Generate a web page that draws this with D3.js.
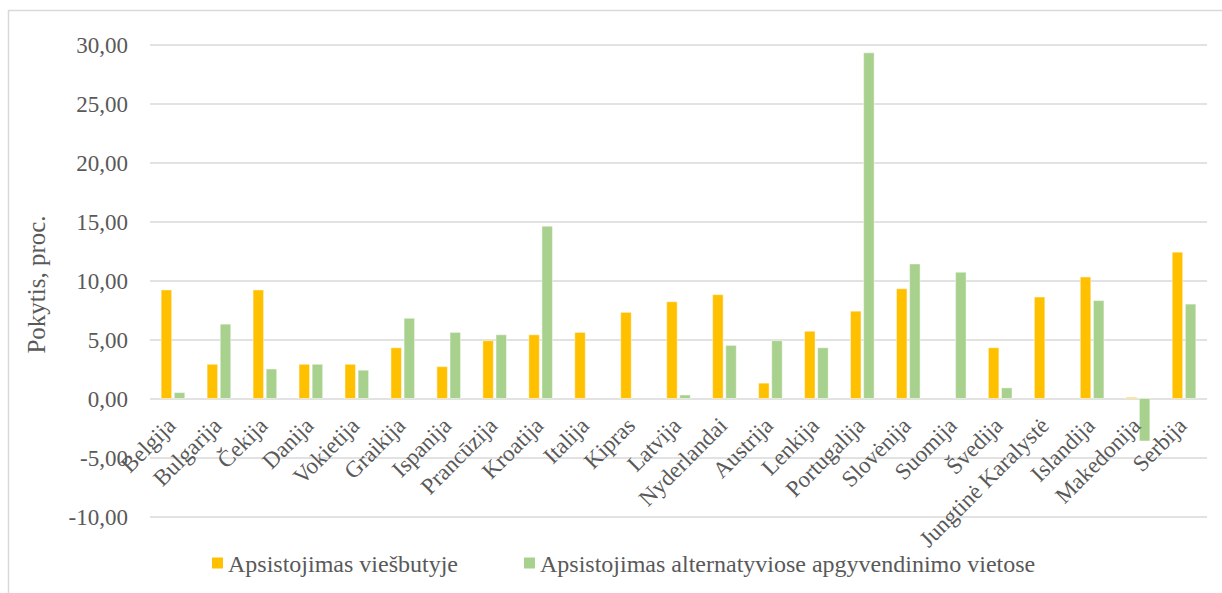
<!DOCTYPE html>
<html>
<head>
<meta charset="utf-8">
<script src="https://cdn.jsdelivr.net/npm/d3@7"></script>
<style>
  html, body { margin: 0; padding: 0; background: #fff; }
  svg { display: block; }
  svg text { font-family: 'Liberation Serif', 'Times New Roman', serif !important; }
</style>
</head>
<body>
<svg id="chart" width="1222" height="593"></svg>
<script>
// Countries on the category axis
const categories = ["Belgija", "Bulgarija", "Čekija", "Danija", "Vokietija", "Graikija", "Ispanija",
  "Prancūzija", "Kroatija", "Italija", "Kipras", "Latvija", "Nyderlandai", "Austrija", "Lenkija",
  "Portugalija", "Slovėnija", "Suomija", "Švedija", "Jungtinė Karalystė", "Islandija", "Makedonija", "Serbija"];

// Change, percent
const hotelValues = [9.2, 2.9, 9.2, 2.9, 2.9, 4.3, 2.7, 4.9, 5.4, 5.6, 7.3, 8.2, 8.8, 1.3, 5.7,
  7.4, 9.3, 0, 4.3, 8.6, 10.3, 0.1, 12.4];
const alternativeValues = [0.5, 6.3, 2.5, 2.9, 2.4, 6.8, 5.6, 5.4, 14.6, 0, 0, 0.3, 4.5, 4.9, 4.3,
  29.3, 11.4, 10.7, 0.9, 0, 8.3, -3.6, 8.0];

const seriesNames = ["Apsistojimas viešbutyje", "Apsistojimas alternatyviose apgyvendinimo vietose"];
const seriesColors = ["#FFC000", "#A9D18E"];
const yTicks = [-10, -5, 0, 5, 10, 15, 20, 25, 30];
const yTitle = "Pokytis, proc.";

const svg = d3.select("#chart");
const textColor = "#595959";
const gridColor = "#d9d9d9";
const serif = "'Liberation Serif', 'Times New Roman', serif";

// chart frame
svg.append("rect")
  .attr("x", 8.5).attr("y", 10.5)
  .attr("width", 1240).attr("height", 620)
  .attr("fill", "#fff").attr("stroke", gridColor).attr("stroke-width", 1.5);

const plot = { left: 150, right: 1207, top: 44.5, bottom: 516.5 };

const x = d3.scaleBand().domain(categories).range([plot.left, plot.right]).padding(0);
const pairWidth = x.bandwidth() * 0.514;
const x1 = d3.scaleBand().domain(seriesNames).range([0, pairWidth]).paddingInner(0.2);
const y = d3.scaleLinear().domain([-10, 30]).range([plot.bottom, plot.top]);

// horizontal gridlines and value labels
const yAxis = d3.axisLeft(y).tickValues(yTicks)
  .tickSize(-(plot.right - plot.left))
  .tickPadding(22)
  .tickFormat(d => d3.format(".2f")(d).replace(".", ",").replace("\u2212", "-"));

const gy = svg.append("g").attr("transform", `translate(${plot.left},0)`).call(yAxis)
  .attr("font-family", serif);
gy.select(".domain").remove();
gy.selectAll(".tick line").attr("stroke", gridColor).attr("stroke-width", 1.6);
gy.selectAll(".tick text")
  .attr("fill", textColor)
  .attr("font-size", 23)
  .style("font-family", serif)
  .attr("dy", "0.34em");

// bars
const rows = categories.map((c, i) => ({ cat: c, vals: [hotelValues[i], alternativeValues[i]] }));
const groups = svg.append("g").selectAll("g").data(rows).join("g")
  .attr("transform", d => `translate(${x(d.cat) + x.bandwidth() / 2 - pairWidth / 2},0)`);

groups.selectAll("rect")
  .data(d => d.vals.map((v, k) => ({ v, k })))
  .join("rect")
  .attr("x", d => x1(seriesNames[d.k]))
  .attr("width", x1.bandwidth())
  .attr("y", d => y(Math.max(0, d.v)))
  .attr("height", d => Math.abs(y(d.v) - y(0)))
  .attr("fill", d => seriesColors[d.k])
  .attr("stroke", "rgba(255,255,255,0.45)")
  .attr("stroke-width", 1);

// category labels, rotated
svg.append("g").selectAll("text").data(categories).join("text")
  .attr("transform", d => `translate(${x(d) + x.bandwidth() / 2 + 4},427) rotate(-45)`)
  .attr("text-anchor", "end")
  .attr("fill", textColor)
  .attr("font-size", 23)
  .style("font-family", serif)
  .text(d => d);

// axis title
svg.append("text")
  .attr("transform", "translate(45,284.5) rotate(-90)")
  .attr("text-anchor", "middle")
  .attr("fill", textColor)
  .attr("font-size", 25)
  .style("font-family", serif)
  .text(yTitle);

// legend
const legendItems = [
  { name: seriesNames[0], color: seriesColors[0], x: 212 },
  { name: seriesNames[1], color: seriesColors[1], x: 524 }
];
const lg = svg.append("g").selectAll("g").data(legendItems).join("g")
  .attr("transform", d => `translate(${d.x},0)`);
lg.append("rect").attr("x", 0).attr("y", 557.5).attr("width", 11).attr("height", 11)
  .attr("fill", d => d.color);
lg.append("text").attr("x", 16).attr("y", 571.5)
  .attr("fill", textColor).attr("font-size", 24)
  .style("font-family", serif)
  .text(d => d.name);
</script>
</body>
</html>
